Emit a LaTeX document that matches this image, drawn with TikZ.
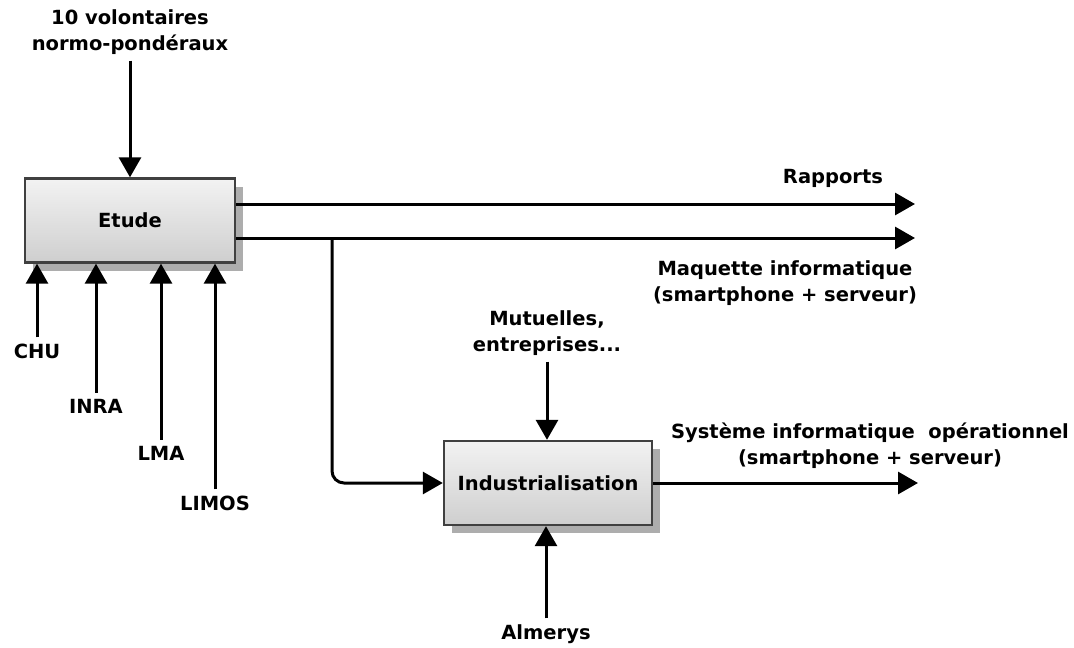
\documentclass[tikz,border=0pt]{standalone}
\usepackage{fontspec}
\setmainfont{DejaVu Sans}
\usetikzlibrary{arrows.meta,shadows}

\tikzset{
  activity box/.style={draw=black!75, line width=2.4pt, top color=gray!10, bottom color=gray!38,
    drop shadow={shadow xshift=8pt, shadow yshift=-8pt, fill=black!32, opacity=1},
    minimum width=210pt, minimum height=84pt},
  flow label/.style={align=center, inner sep=6pt},
  flow/.style={line width=3pt, -{Triangle[length=20pt,width=22pt]}}
}

\begin{document}
\begin{tikzpicture}[x=1pt,y=-1pt,font=\fontsize{19.5}{26}\selectfont\bfseries]
\useasboundingbox (0,0) rectangle (1074,648);

% the two activities
\node[activity box] (etude) at (130,220.5) {Etude};
\node[activity box, minimum width=208pt] (indus) at (548,483) {Industrialisation};

% controls and mechanisms of Etude
\node[flow label] (volontaires) at (130,32) {10 volontaires\\normo-pondéraux};
\draw[flow] (volontaires) -- (volontaires |- etude.north);
\node[flow label] (chu) at (37,351) {CHU};
\node[flow label] (inra) at (96,406) {INRA};
\node[flow label] (lma) at (161,453) {LMA};
\node[flow label] (limos) at (215,503) {LIMOS};
\foreach \who in {chu,inra,lma,limos}
  \draw[flow] (\who) -- (\who |- etude.south);

% outputs of Etude
\coordinate (rapports end) at (915,204);
\coordinate (maquette end) at (915,238);
\coordinate (fork) at (332,238);
\node[flow label] (rapports) at (833,178) {Rapports};
\node[flow label] (maquette) at (785,283) {Maquette informatique\\(smartphone + serveur)};
\draw[flow] (etude.east |- rapports end) -- (rapports end);
\draw[flow] (etude.east |- maquette end) -- (maquette end);
\draw[flow, rounded corners=12pt] (fork) |- (indus);

% Industrialisation
\node[flow label] (mutuelles) at (547,333) {Mutuelles,\\entreprises...};
\node[flow label] (almerys) at (546,634) {Almerys};
\draw[flow] (mutuelles) -- (mutuelles |- indus.north);
\draw[flow] (almerys) -- (almerys |- indus.south);
\coordinate (systeme end) at (918,483);
\node[flow label] (systeme) at (870,446) {Système informatique\ \ opérationnel\\(smartphone + serveur)};
\draw[flow] (indus) -- (systeme end);
\end{tikzpicture}
\end{document}
